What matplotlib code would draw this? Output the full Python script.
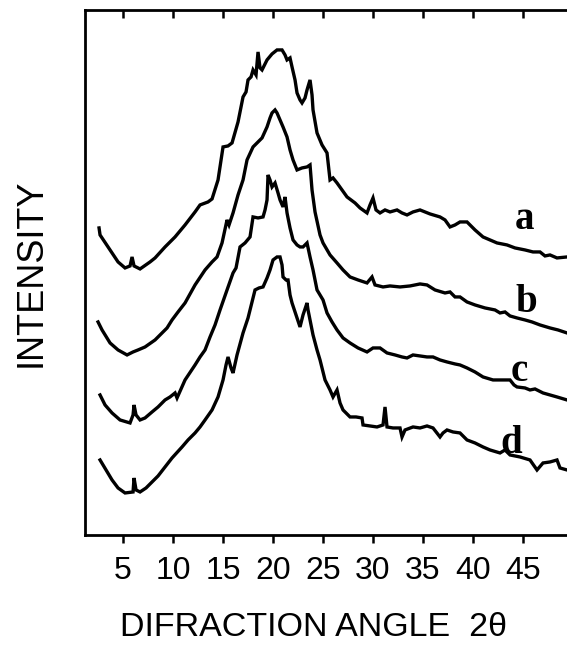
import numpy as np
import matplotlib
matplotlib.use("Agg")
import matplotlib.pyplot as plt

# diffraction angle (2theta, deg) and intensity (a.u.)
a_x = [2.6, 2.7, 3.7, 4.5, 5.2, 5.7, 5.9, 6.1, 6.7, 7.7, 8.2, 9.2, 10.2, 11.2, 12.2,
       12.7, 13.5, 13.9, 14.5, 15.0, 15.5, 15.9, 16.5, 17.0, 17.3, 17.5, 17.8, 18.0, 18.3, 18.5,
       18.7, 18.9, 19.1, 19.4, 19.9, 20.4, 20.9, 21.2, 21.4, 21.7, 21.9, 22.2, 22.4, 22.7, 22.9,
       23.2, 23.4, 23.7, 23.9, 24.0, 24.4, 24.9, 25.4, 25.7, 26.0, 26.4, 26.9, 27.4, 28.2, 28.7,
       29.4, 29.7, 30.0, 30.3, 30.7, 31.2, 31.7, 32.4, 32.9, 33.4, 34.0, 34.7, 35.7, 36.7, 37.2,
       37.7, 38.2, 38.7, 39.4, 40.2, 41.0, 41.7, 42.4, 43.4, 44.2, 45.2, 46.0, 46.7, 47.2, 47.7,
       48.4, 49.4]
a_y = [307, 300, 285, 273, 267, 269, 278, 269, 266, 273, 277, 288, 298, 310, 323,
       330, 333, 336, 355, 388, 389, 392, 413, 438, 443, 455, 458, 465, 460, 483,
       467, 465, 469, 475, 481, 485, 485, 480, 475, 477, 468, 455, 442, 435, 432,
       437, 445, 455, 440, 425, 402, 390, 382, 355, 357, 352, 345, 338, 332, 327,
       322, 330, 337, 325, 322, 325, 323, 325, 322, 320, 323, 325, 321, 318, 315,
       308, 310, 313, 313, 305, 298, 295, 292, 290, 287, 285, 283, 283, 279, 280,
       277, 278]

b_x = [2.5, 2.9, 3.7, 4.5, 5.4, 6.0, 6.5, 7.2, 8.2, 8.7, 9.4, 9.9, 10.5, 11.2, 12.2,
       13.2, 13.9, 14.4, 14.9, 15.4, 15.6, 16.0, 16.5, 17.0, 17.4, 18.0, 18.5, 18.9, 19.4, 19.7,
       19.9, 20.2, 20.4, 20.7, 21.0, 21.4, 21.7, 22.0, 22.4, 22.9, 23.4, 23.7, 23.9, 24.2, 24.7,
       25.0, 25.7, 26.4, 27.0, 27.7, 28.5, 29.4, 29.9, 30.2, 31.0, 31.7, 32.7, 33.7, 34.7, 35.4,
       36.2, 37.2, 37.7, 38.2, 38.7, 39.4, 40.2, 41.2, 42.2, 42.7, 43.2, 43.7, 44.4, 45.2, 45.9,
       46.7, 47.7, 48.5, 49.4]
b_y = [213, 205, 192, 185, 180, 183, 185, 188, 195, 200, 207, 215, 223, 232, 250,
       265, 273, 278, 292, 315, 310, 322, 340, 355, 375, 388, 393, 397, 408, 417,
       422, 425, 422, 415, 408, 398, 385, 375, 365, 367, 368, 370, 345, 323, 300,
       292, 280, 272, 265, 258, 255, 252, 258, 250, 248, 249, 248, 249, 251, 250,
       245, 242, 243, 238, 238, 233, 230, 227, 225, 222, 223, 219, 217, 215, 213,
       210, 207, 205, 202]

c_x = [2.7, 3.2, 3.9, 4.7, 5.7, 6.0, 6.1, 6.3, 6.7, 7.2, 7.9, 8.5, 9.2, 9.7, 10.2,
       10.4, 11.2, 12.2, 12.7, 13.2, 13.7, 14.2, 14.7, 15.4, 16.0, 16.3, 16.7, 17.2, 17.7, 18.0,
       18.5, 19.0, 19.2, 19.4, 19.5, 19.7, 19.9, 20.2, 20.5, 20.7, 21.0, 21.2, 21.4, 21.7, 22.0,
       22.4, 22.7, 23.0, 23.2, 23.4, 23.7, 24.0, 24.4, 25.0, 25.4, 25.9, 26.4, 27.0, 27.7, 28.5,
       29.4, 30.0, 30.7, 31.4, 32.2, 32.9, 33.4, 34.0, 34.7, 35.4, 36.0, 36.7, 37.4, 38.2, 38.7,
       39.4, 40.2, 41.0, 42.0, 42.7, 43.7, 44.1, 44.4, 45.2, 45.7, 46.2, 47.0, 47.7, 48.4, 49.4]
c_y = [140, 130, 122, 115, 112, 120, 130, 120, 115, 117, 123, 128, 135, 138, 142,
       137, 155, 170, 178, 185, 198, 210, 225, 245, 262, 267, 288, 292, 298, 318,
       317, 318, 325, 335, 360, 355, 348, 352, 342, 335, 328, 338, 322, 307, 295,
       290, 288, 288, 290, 292, 278, 265, 245, 235, 222, 213, 205, 197, 192, 187,
       183, 187, 187, 182, 180, 178, 177, 180, 179, 178, 178, 175, 173, 171, 170,
       167, 163, 158, 155, 155, 155, 150, 148, 147, 145, 146, 142, 140, 138, 135]

d_x = [2.7, 3.3, 3.9, 4.5, 5.2, 6.0, 6.1, 6.3, 6.7, 7.3, 7.9, 8.5, 9.2, 9.9, 10.9,
       11.5, 12.2, 12.7, 13.2, 13.9, 14.5, 15.0, 15.3, 15.5, 15.8, 16.0, 16.4, 17.0, 17.5, 17.9,
       18.2, 18.6, 19.0, 19.4, 19.7, 20.0, 20.4, 20.7, 20.9, 21.0, 21.3, 21.5, 21.7, 21.9, 22.3,
       22.7, 23.0, 23.4, 23.5, 23.7, 24.0, 24.4, 24.7, 25.2, 25.7, 26.0, 26.4, 26.7, 27.0, 27.7,
       28.3, 28.9, 29.0, 29.7, 30.4, 31.0, 31.2, 31.4, 32.0, 32.7, 32.9, 33.2, 34.0, 34.7, 35.4,
       36.0, 36.7, 37.0, 37.4, 38.0, 38.7, 39.4, 40.2, 41.0, 41.7, 42.7, 43.2, 43.7, 44.7, 45.7,
       46.4, 47.0, 47.7, 48.4, 48.7, 49.4]
d_y = [75, 65, 55, 47, 42, 43, 57, 45, 43, 47, 53, 59, 68, 77, 88,
       95, 102, 108, 115, 125, 138, 155, 170, 178, 167, 162, 180, 202, 217, 233,
       245, 247, 248, 257, 265, 275, 278, 278, 270, 258, 255, 255, 240, 232, 220,
       208, 220, 232, 225, 215, 200, 185, 175, 155, 145, 138, 145, 132, 125, 118,
       118, 117, 110, 109, 108, 110, 128, 108, 107, 107, 98, 105, 108, 107, 109,
       107, 98, 102, 105, 103, 102, 95, 92, 88, 85, 82, 85, 80, 78, 75,
       65, 72, 73, 75, 67, 65]

curves = [(a_x, a_y), (b_x, b_y), (c_x, c_y), (d_x, d_y)]
labels = ["a", "b", "c", "d"]
label_pos = [(45.1, 315), (45.3, 232), (44.6, 163), (43.8, 91)]
xticks = [5, 10, 15, 20, 25, 30, 35, 40, 45]

fig = plt.figure(figsize=(5.67, 6.49), dpi=100)
ax = fig.add_axes([0.150, 0.1757, 0.85, 0.809])

for (xs, ys) in curves:
    ax.plot(xs, ys, color="black", lw=2.4, solid_joinstyle="miter")

for lab, (lx, ly) in zip(labels, label_pos):
    ax.text(lx, ly, lab, ha="center", va="center", fontsize=28,
            fontweight="bold", family="Liberation Serif")

ax.set_xlim(1.2, 49.4)
ax.set_ylim(0, 525)
ax.set_xticks(xticks)
ax.set_xticklabels([str(t) for t in xticks], family="Liberation Sans", fontsize=23)
ax.set_yticks([])
ax.tick_params(axis="x", direction="out", length=6, width=1.8, pad=9, top=True)
# top ticks point inward on the original
for t in ax.xaxis.get_major_ticks():
    t.tick2line.set_marker(3)
    t.tick2line.set_markersize(6)
    t.tick2line.set_markeredgewidth(1.8)

ax.spines["right"].set_visible(False)
for s in ["left", "top", "bottom"]:
    ax.spines[s].set_linewidth(2.0)

ax.set_xlabel("DIFRACTION ANGLE  2θ", family="Liberation Sans", fontsize=24.5)
ax.xaxis.set_label_coords(0.475, -0.146)
ax.set_ylabel("INTENSITY", family="Liberation Sans", fontsize=26, labelpad=26)

plt.savefig("out.png", dpi=100)
plt.close()
